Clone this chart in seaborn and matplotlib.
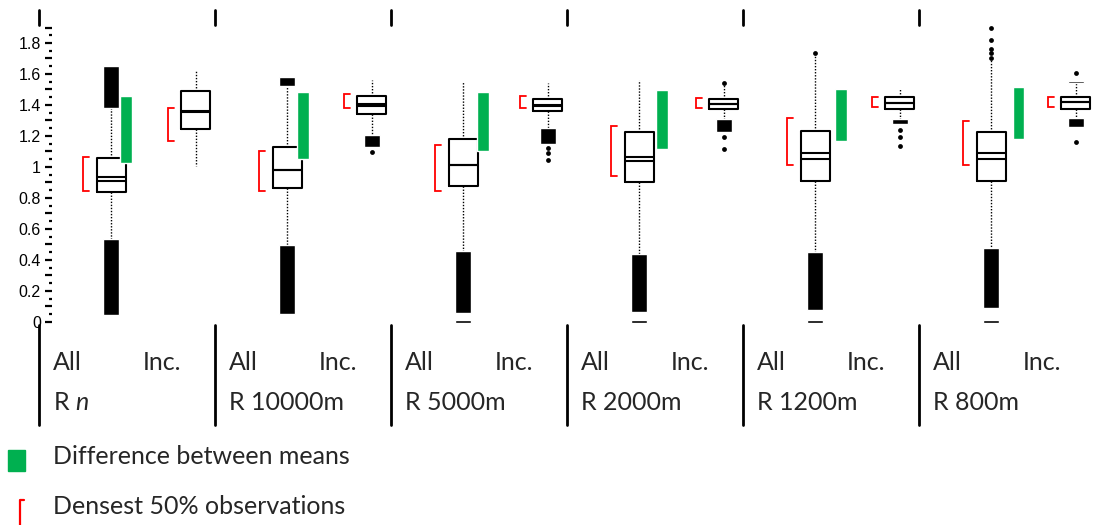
import matplotlib
matplotlib.use("Agg")
import matplotlib.pyplot as plt
import matplotlib.ticker as mticker
from matplotlib.patches import Rectangle
from matplotlib.lines import Line2D
import pandas as pd
import seaborn as sns

# ---- data ----
radii = ["R $n$", "R 10000m", "R 5000m", "R 2000m", "R 1200m", "R 800m"]

# "All" boxes
all_q1 = [0.837, 0.862, 0.879, 0.901, 0.910, 0.912]
all_q3 = [1.056, 1.131, 1.178, 1.228, 1.234, 1.228]
all_med = [0.907, 0.983, 1.015, 1.039, 1.054, 1.052]
all_mean = [0.937, 0.983, 1.015, 1.063, 1.092, 1.088]
all_whis_lo = [0.535, 0.497, 0.458, 0.439, 0.454, 0.475]
all_whis_hi = [1.380, 1.523, 1.555, 1.561, 1.725, 1.700]
all_band_lo = [0.045, 0.052, 0.060, 0.066, 0.077, 0.088]
all_band_up = [(1.380, 1.654), (1.523, 1.583), None, None, None, None]
all_zero = [None, None, 0.0, 0.0, 0.0, 0.0]
all_fliers = [[], [], [], [], [1.733], [1.705, 1.735, 1.761, 1.819, 1.899]]
all_dense_lo = [0.847, 0.847, 0.847, 0.944, 1.013, 1.013]
all_dense_hi = [1.066, 1.105, 1.142, 1.266, 1.318, 1.299]

# "Inc." boxes
inc_q1 = [1.245, 1.344, 1.361, 1.374, 1.376, 1.376]
inc_q3 = [1.492, 1.456, 1.439, 1.439, 1.450, 1.450]
inc_med = [1.352, 1.394, 1.394, 1.404, 1.411, 1.421]
inc_mean = [1.360, 1.408, 1.400, 1.404, 1.415, 1.421]
inc_whis_lo = [1.008, 1.206, 1.254, 1.310, 1.308, 1.314]
inc_whis_hi = [1.626, 1.561, 1.542, 1.535, 1.508, 1.540]
inc_band_lo = [None, (1.131, 1.206), (1.146, 1.254), (1.228, 1.310),
               (1.277, 1.308), (1.260, 1.314)]
inc_band_up = [None, None, None, None, None, (1.540, 1.556)]
inc_fliers = [[], [1.099], [1.120, 1.090, 1.045], [1.545, 1.195, 1.114],
              [1.239, 1.192, 1.135], [1.608, 1.163]]
inc_dense_lo = [1.168, 1.379, 1.379, 1.379, 1.389, 1.389]
inc_dense_hi = [1.379, 1.469, 1.460, 1.447, 1.450, 1.450]

# difference between means
diff_lo = [1.028, 1.054, 1.105, 1.118, 1.170, 1.178]
diff_hi = [1.456, 1.482, 1.484, 1.497, 1.501, 1.514]

# ---- layout ----
W, H = 1097, 525
n = len(radii)
all_x = [g + 0.41 for g in range(n)]
inc_x = [g + 0.89 for g in range(n)]
diff_x = [g + s for g, s in zip(range(n), [0.495, 0.50, 0.52, 0.54, 0.555, 0.565])]
box_w = 0.165
band_w = 0.09
green = "#00B050"
red = "#FF0000"
txt_size = 18

sns.set_theme(style="white")
plt.rcParams["font.family"] = ["Liberation Sans", "DejaVu Sans"]
plt.rcParams["mathtext.fontset"] = "custom"
plt.rcParams["mathtext.it"] = "Lato:italic"
plt.rcParams["mathtext.rm"] = "Lato"

fig = plt.figure(figsize=(W / 100, H / 100), dpi=100)
ax = fig.add_axes([52 / W, 1 - 325 / H, 1 - 52 / W, 315 / H])


def stats(q1, q3, med, mean, lo, hi):
    return [dict(q1=a, q3=b, med=c, mean=d, whislo=e, whishi=f, fliers=[])
            for a, b, c, d, e, f in zip(q1, q3, med, mean, lo, hi)]


box_style = dict(
    widths=box_w, showmeans=True, meanline=True, showcaps=False, showfliers=False,
    patch_artist=False,
    boxprops=dict(color="black", linewidth=1.5),
    whiskerprops=dict(color="black", linewidth=1.0, linestyle=(0, (1, 1.2))),
    medianprops=dict(color="black", linewidth=1.5),
    meanprops=dict(color="black", linewidth=1.5, linestyle="-"),
)
ax.bxp(stats(all_q1, all_q3, all_med, all_mean, all_whis_lo, all_whis_hi),
       positions=all_x, **box_style)
ax.bxp(stats(inc_q1, inc_q3, inc_med, inc_mean, inc_whis_lo, inc_whis_hi),
       positions=inc_x, **box_style)

# dense outlier bands
for i in range(n):
    ax.bar(all_x[i], all_whis_lo[i] - all_band_lo[i], bottom=all_band_lo[i],
           width=band_w, color="black", zorder=3)
    for x, band in ((all_x[i], all_band_up[i]), (inc_x[i], inc_band_lo[i]),
                    (inc_x[i], inc_band_up[i])):
        if band is not None:
            ax.bar(x, band[1] - band[0], bottom=band[0], width=band_w,
                   color="black", zorder=3)
    if all_zero[i] is not None:
        ax.bar(all_x[i], 0.02, bottom=all_zero[i] - 0.008, width=band_w,
               color="black", zorder=3)

# single outliers
fl = pd.DataFrame(
    [(all_x[i], v) for i in range(n) for v in all_fliers[i]]
    + [(inc_x[i], v) for i in range(n) for v in inc_fliers[i]],
    columns=["x", "value"])
sns.scatterplot(data=fl, x="x", y="value", ax=ax, color="black", s=12,
                linewidth=0, zorder=4)

# difference between means
ax.bar(diff_x, [h - l for h, l in zip(diff_hi, diff_lo)], bottom=diff_lo,
       width=0.068, color=green, zorder=5)


# densest 50% brackets
def bracket(x, lo, hi):
    ax.plot([x + 0.034, x, x, x + 0.034], [hi, hi, lo, lo], color=red,
            linewidth=1.3, solid_joinstyle="miter", zorder=5)


for i in range(n):
    bracket(all_x[i] - 0.16, all_dense_lo[i], all_dense_hi[i])
    bracket(inc_x[i] - 0.155, inc_dense_lo[i], inc_dense_hi[i])

ax.set_xlim(0.074, 6.011)
ax.set_ylim(-0.02, 2.013)

# y axis: labelled every 0.2, dashes every 0.1, dots every 0.05
major = [k / 10 for k in range(0, 20)]
ax.yaxis.set_major_locator(mticker.FixedLocator(major))
ax.yaxis.set_major_formatter(mticker.FuncFormatter(
    lambda v, p: f"{v:g}" if round(v * 10) % 2 == 0 else ""))
ax.yaxis.set_minor_locator(mticker.FixedLocator([k / 10 + 0.05 for k in range(0, 19)]))
ax.tick_params(axis="y", which="major", left=True, direction="out", length=5,
               width=1.6, pad=3, labelsize=11.5, colors="black")
ax.tick_params(axis="y", which="minor", left=True, direction="out", length=2,
               width=1.6, colors="black")
ax.set_xticks([])
sns.despine(ax=ax, left=True, bottom=True, top=True, right=True)
ax.set_xlabel("")
ax.set_ylabel("")

# group separators and table
xt = ax.get_xaxis_transform()
for g in range(n):
    ax.plot([g, g], [1 - 15 / 315, 1], color="black", linewidth=2,
            transform=xt, clip_on=False)
    ax.plot([g, g], [0, -100 / 315], color="black", linewidth=2,
            transform=xt, clip_on=False)
    ax.text(g + 0.08, -37 / 315, "All", transform=xt, ha="left", va="center",
            family="Lato", fontsize=txt_size)
    ax.text(g + 0.59, -37 / 315, "Inc.", transform=xt, ha="left", va="center",
            family="Lato", fontsize=txt_size)
    ax.text(g + 0.08, -77 / 315, radii[g], transform=xt, ha="left", va="center",
            family="Lato", fontsize=txt_size)

# legend
fig.patches.append(Rectangle((8 / W, 1 - 471 / H), 17 / W, 21 / H,
                             transform=fig.transFigure, color=green))
fig.add_artist(Line2D([24 / W, 20 / W, 20 / W], [1 - 500 / H, 1 - 500 / H, 0],
                      transform=fig.transFigure, color=red, linewidth=1.6))
fig.text(53 / W, 1 - 457 / H, "Difference between means", ha="left",
         va="center", family="Lato", fontsize=txt_size)
fig.text(53 / W, 1 - 507 / H, "Densest 50% observations", ha="left",
         va="center", family="Lato", fontsize=txt_size)

fig.savefig("out.png", dpi=100)
